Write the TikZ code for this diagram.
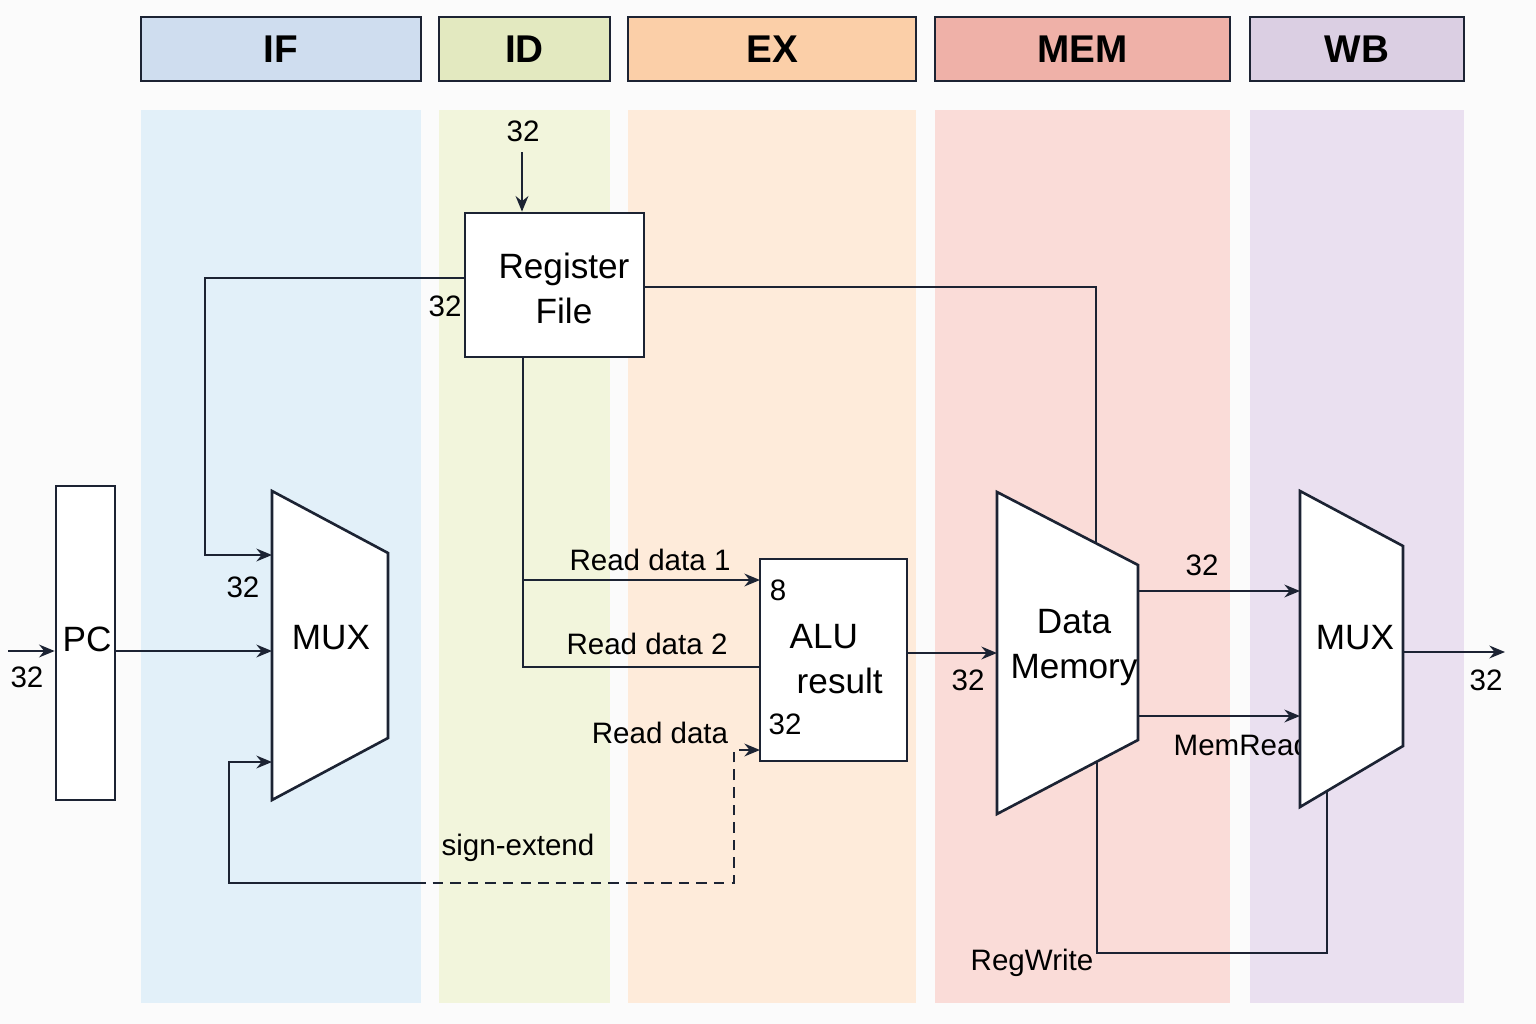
\documentclass[tikz,border=0pt]{standalone}
\usepackage{fontspec}
\setmainfont{Liberation Sans}
\usetikzlibrary{arrows.meta}

\definecolor{bgc}{HTML}{FBFBFB}
\definecolor{linec}{HTML}{1C2333}
\definecolor{ifh}{HTML}{CFDDEF}
\definecolor{ifc}{HTML}{E2F0F9}
\definecolor{idh}{HTML}{E3E9C0}
\definecolor{idc}{HTML}{F2F5DC}
\definecolor{exh}{HTML}{FBCFA8}
\definecolor{exc}{HTML}{FEEBDA}
\definecolor{memh}{HTML}{EFB1A8}
\definecolor{memc}{HTML}{FADCD8}
\definecolor{wbh}{HTML}{DBCFE3}
\definecolor{wbc}{HTML}{EAE0F0}

\tikzset{
  wire/.style={draw=linec, line width=0.75pt},
  arr/.style={wire, -{Stealth[length=4.4pt,width=3.6pt]}},
  box/.style={draw=linec, fill=white, line width=0.75pt, inner sep=0pt},
  head/.style={draw=linec, line width=0.75pt},
  headtxt/.style={font=\fontsize{11}{13}\selectfont\bfseries},
  big/.style={font=\fontsize{10}{12.8}\selectfont, align=center, inner sep=0pt},
  small/.style={font=\fontsize{8.4}{10}\selectfont, inner sep=0pt},
}

\begin{document}
\begin{tikzpicture}[x=0.01cm, y=-0.01cm]
  \fill[bgc] (0,0) rectangle (1536,1024);

  % stages
  \foreach \nm/\xa/\xb/\hc/\cc in {IF/141/421/ifh/ifc, ID/439/610/idh/idc,
      EX/628/916/exh/exc, MEM/935/1230/memh/memc, WB/1250/1464/wbh/wbc} {
    \fill[\cc] (\xa,110) rectangle (\xb,1003);
    \draw[head, fill=\hc] (\xa,17) rectangle (\xb,81);
    \node[headtxt] (\nm) at ({(\xa+\xb)/2},49) {\nm};
  }

  \coordinate (pcin) at (8,651);
  \coordinate (m1a) at (272,555);
  \coordinate (m1b) at (272,651);
  \coordinate (m1c) at (272,762);
  \coordinate (rfin) at (522,152);
  \coordinate (rfl) at (465,278);
  \coordinate (rfr) at (644,287);
  \coordinate (rfb) at (523,357);
  \coordinate (alu1) at (760,580);
  \coordinate (alu2) at (760,667);
  \coordinate (alu3) at (760,750);
  \coordinate (sej) at (415,883);
  \coordinate (dmin) at (997,653);
  \coordinate (dmtop) at (1096,543);
  \coordinate (dmbot) at (1097,762);
  \coordinate (dmo1) at (1138,591);
  \coordinate (dmo2) at (1138,716);
  \coordinate (m2a) at (1300,591);
  \coordinate (m2b) at (1300,716);
  \coordinate (m2bot) at (1327,791);
  \coordinate (m2o) at (1403,652);
  \coordinate (wbout) at (1505,652);

  \node[box, minimum width=0.59cm, minimum height=3.14cm] (pc) at (85.5,643) {};
  \node[box, minimum width=1.79cm, minimum height=1.44cm] (rf) at (554.5,285) {};
  \node[box, minimum width=1.47cm, minimum height=2.02cm] (alu) at (833.5,660) {};

  % wires
  \draw[arr] (pcin) -- (pc.west |- pcin);
  \draw[arr] (pc.east |- m1b) -- (m1b);
  \draw[arr] (rfl) -- ++(-260,0) |- (m1a);
  \draw[arr] (sej) -- ++(-186,0) |- (m1c);
  \draw[arr, dash pattern=on 3pt off 2pt] (sej) -- ++(319,0) |- (alu3);
  \draw[arr] (rfin) -- (rfin |- rf.north);
  \draw[wire] (rfr) -| (dmtop);
  \draw[wire] (rfb) |- (alu2);
  \draw[arr] (rfb |- alu1) -- (alu1);
  \draw[arr] (alu.east |- dmin) -- (dmin);
  \draw[arr] (dmo1) -- (m2a);
  \draw[arr] (dmo2) -- (m2b);
  \draw[wire] (dmbot) -- ++(0,191) -| (m2bot);
  \draw[arr] (m2o) -- (wbout);

  \node[small, anchor=west] (memread) at (1173,745) {MemRead};

  % mux and memory
  \draw[box] (272,491) -- (388,553) -- (388,738) -- (272,800) -- cycle;
  \draw[box] (997,492) -- (1138,565) -- (1138,740) -- (997,814) -- cycle;
  \draw[box] (1300,491) -- (1403,546) -- (1403,746) -- (1300,807) -- cycle;

  \node[big] (pclbl) at (87,639) {PC};
  \node[big] (mux1) at (331,638) {MUX};
  \node[big] (rflbl) at (564,288) {Register\\File};
  \node[big, align=left, anchor=west] (alulbl) at (789,659) {ALU\\\hspace{2pt}result};
  \node[big] (dm) at (1074,648) {Data\\Memory};
  \node[big] (mux2) at (1355,638) {MUX};

  \node[small] (w1) at (27,677) {32};
  \node[small] (w2) at (243,587) {32};
  \node[small] (w3) at (523,131) {32};
  \node[small] (w4) at (445,306) {32};
  \node[small] (w5) at (968,680) {32};
  \node[small] (w6) at (1202,565) {32};
  \node[small] (w7) at (1486,680) {32};
  \node[small] (w8) at (778,590) {8};
  \node[small] (w9) at (785,724) {32};
  \node[small] (rd1) at (650,560) {Read data 1};
  \node[small] (rd2) at (647,644) {Read data 2};
  \node[small] (rd) at (660,733) {Read data};
  \node[small] (sext) at (518,848) {sign-extend};
  \node[small] (regw) at (1032,963) {RegWrite};
\end{tikzpicture}
\end{document}
